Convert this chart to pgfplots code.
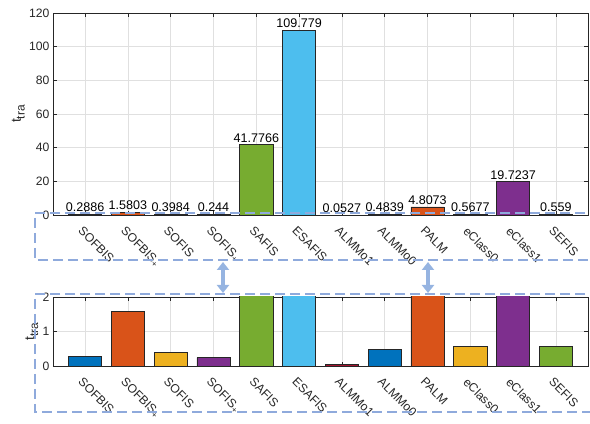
\documentclass[border=0pt]{standalone}
\usepackage{fontspec}
\setmainfont{Liberation Sans}
\usepackage{pgfplots}
\pgfplotsset{compat=1.18}
\usetikzlibrary{arrows.meta}
\newcommand\tickfont{\fontsize{12.2}{14}\selectfont}
\newcommand\nodefont{\fontsize{12.6}{14}\selectfont}
\newcommand\ylab{{\fontsize{14}{16}\selectfont t}\raisebox{-0.3em}{\fontsize{12}{14}\selectfont tra}}
\definecolor{mblue}{rgb}{0,0.447,0.741}
\definecolor{morange}{rgb}{0.851,0.325,0.098}
\definecolor{myellow}{rgb}{0.929,0.694,0.125}
\definecolor{mpurple}{rgb}{0.494,0.184,0.556}
\definecolor{mgreen}{rgb}{0.466,0.674,0.188}
\definecolor{mcyan}{rgb}{0.301,0.745,0.933}
\definecolor{mred}{rgb}{0.635,0.078,0.184}
\definecolor{axgray}{rgb}{0.15,0.15,0.15}
\definecolor{dashblue}{RGB}{143,170,220}
\definecolor{arrowblue}{RGB}{150,180,225}
\pgfplotsset{
 mystyle/.style={
  scale only axis, width=535bp, anchor=south west,
  xmin=0.25, xmax=12.75, xtick={1,...,12},
  xticklabels={SOFBIS,SOFBIS\textsubscript{+},SOFIS,SOFIS\textsubscript{+},SAFIS,ESAFIS,ALMMo1,ALMMo0,PALM,eClass0,eClass1,SEFIS},
  tick label style={font=\tickfont, text=axgray},
  xticklabel style={xshift=-1.5bp, yshift=-10bp, rotate=-45, anchor=north west, inner sep=0.5bp},
  ylabel style={font=\tickfont, text=axgray, inner sep=1bp},
  /pgf/number format/assume math mode=true,
  axis line style={axgray, line width=0.6bp},
  tick style={axgray, line width=0.6bp},
  major tick length=4bp,
  tick align=inside,
  grid=major, grid style={black!12, line width=0.5bp},
  ylabel={\ylab},
  every axis plot/.append style={ybar, bar width=0.78, bar shift=0pt, draw=axgray, line width=0.6bp},
 },
}
\begin{document}
\begin{tikzpicture}
\useasboundingbox (0,0) rectangle (590bp,424bp);
\begin{axis}[mystyle, at={(53bp,209bp)}, height=202bp,
  ymin=0, ymax=120, ytick={0,20,...,120},
  nodes near coords, point meta=explicit symbolic,
  every node near coord/.append style={font=\nodefont, anchor=south, inner sep=2.2bp, text=black}]
\addplot[fill=mblue] coordinates {(1,0.2886)[0.2886] (8,0.4839)[0.4839]};
\addplot[fill=morange] coordinates {(2,1.5803)[1.5803] (9,4.8073)[4.8073]};
\addplot[fill=myellow] coordinates {(3,0.3984)[0.3984] (10,0.5677)[0.5677]};
\addplot[fill=mpurple] coordinates {(4,0.244)[0.244] (11,19.7237)[19.7237]};
\addplot[fill=mgreen] coordinates {(5,41.7766)[41.7766] (12,0.559)[0.559]};
\addplot[fill=mcyan] coordinates {(6,109.779)[109.779]};
\addplot[fill=mred] coordinates {(7,0.0527)[0.0527]};
\end{axis}
\begin{axis}[mystyle, at={(53bp,58bp)}, height=69bp,
  ymin=0, ymax=2, ytick={0,1,2}]
\addplot[fill=mblue] coordinates {(1,0.2886) (8,0.4839)};
\addplot[fill=morange] coordinates {(2,1.5803) (9,4.8073)};
\addplot[fill=myellow] coordinates {(3,0.3984) (10,0.5677)};
\addplot[fill=mpurple] coordinates {(4,0.244) (11,19.7237)};
\addplot[fill=mgreen] coordinates {(5,41.7766) (12,0.559)};
\addplot[fill=mcyan] coordinates {(6,109.779)};
\addplot[fill=mred] coordinates {(7,0.0527)};
\end{axis}
\draw[dashblue, line width=2bp, dash pattern=on 10bp off 5bp] (600bp,211bp) -- (35bp,211bp) -- (35bp,164bp) -- (600bp,164bp);
\draw[dashblue, line width=2bp, dash pattern=on 10bp off 5bp] (600bp,130bp) -- (35bp,130bp) -- (35bp,12bp) -- (600bp,12bp);
\draw[arrowblue, line width=4bp, {Triangle[width=12bp,length=8bp]}-{Triangle[width=12bp,length=8bp]}] (223bp,162bp) -- (223bp,131bp);
\draw[arrowblue, line width=4bp, {Triangle[width=12bp,length=8bp]}-{Triangle[width=12bp,length=8bp]}] (428bp,162bp) -- (428bp,131bp);
\end{tikzpicture}
\end{document}
